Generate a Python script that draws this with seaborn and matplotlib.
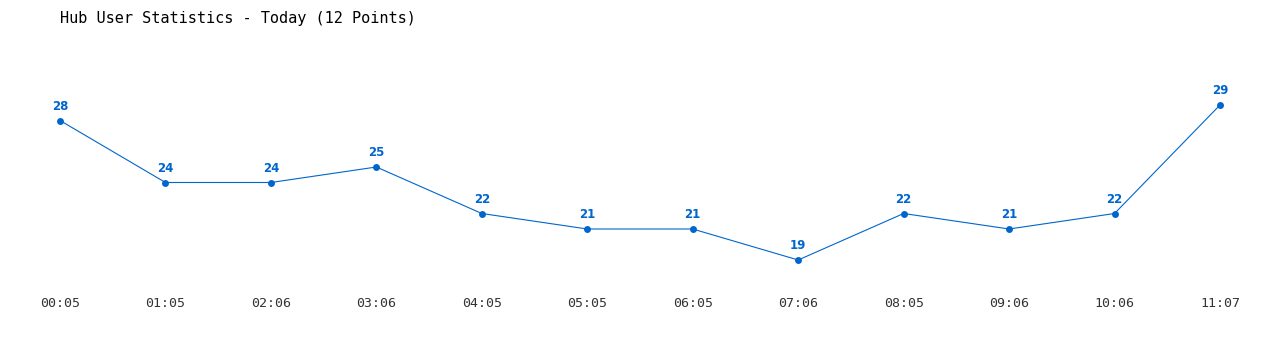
import matplotlib
matplotlib.use("Agg")
import matplotlib.pyplot as plt
import seaborn as sns
import pandas as pd

times = ["00:05", "01:05", "02:06", "03:06", "04:05", "05:05",
         "06:05", "07:06", "08:05", "09:06", "10:06", "11:07"]
users = [28, 24, 24, 25, 22, 21, 21, 19, 22, 21, 22, 29]
title = "Hub User Statistics - Today (12 Points)"

sns.set_theme(style="white")
plt.rcParams['font.family'] = ['DejaVu Sans Mono', 'DejaVu Sans']

df = pd.DataFrame({"idx": range(len(times)), "users": users})
color = "#0066cc"

fig = plt.figure(figsize=(12.8, 3.5), dpi=100)
ax = fig.add_axes([60/1280, 70/350, 1160/1280, 235/350])
sns.lineplot(data=df, x="idx", y="users", ax=ax, color=color, linewidth=0.8,
             marker="o", markersize=5, markeredgewidth=0, clip_on=False)
ax.set_xlim(0, 11)
ax.set_ylim(19 - 20/15.5, 29 + 60/15.5)
for i, v in zip(df["idx"], df["users"]):
    ax.annotate(str(v), (i, v), xytext=(0, 5.5), textcoords="offset points",
                ha="center", va="bottom", fontsize=8.5, fontweight="bold",
                color=color, family=["DejaVu Sans", "DejaVu Sans Mono"])
ax.set_xticks(list(df["idx"]))
ax.set_xticklabels(times, fontsize=9.5, color="#333333")
ax.set_yticks([])
ax.tick_params(axis="x", length=0, pad=12.5)
ax.set_xlabel("")
ax.set_ylabel("")
for s in ax.spines.values():
    s.set_visible(False)
fig.text(60/1280, 1 - 18/350, title, ha="left", va="center", fontsize=11,
         color="#000000")
fig.savefig("out.png", dpi=100)
